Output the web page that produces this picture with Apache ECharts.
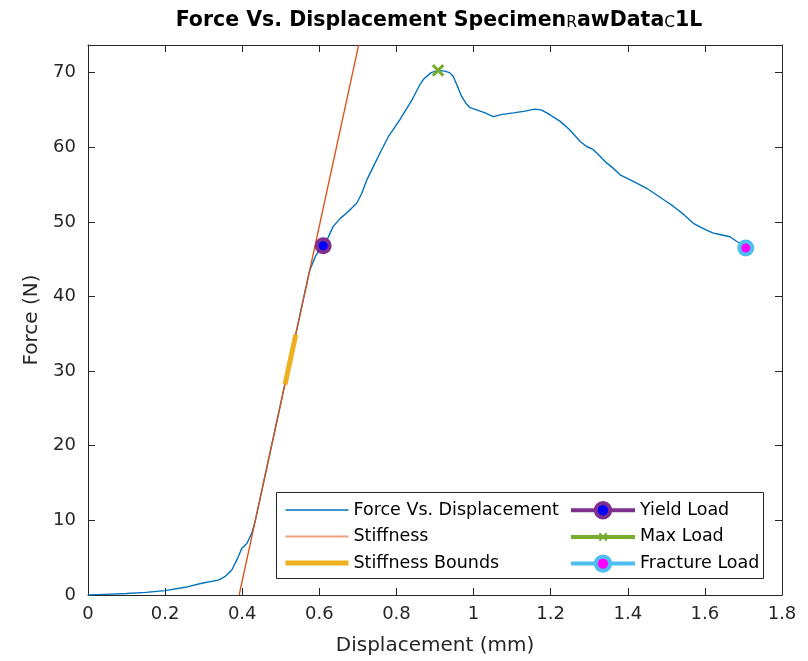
<!DOCTYPE html>
<html>
<head>
<meta charset="utf-8">
<script src="https://cdn.jsdelivr.net/npm/echarts@6/dist/echarts.min.js"></script>
<style>
  html, body { margin: 0; padding: 0; background: #fff; }
  #chart { width: 808px; height: 661px; }
</style>
</head>
<body>
<div id="chart"></div>
<script>
// ---- Data ----
const forceX = [0, 0.044, 0.1, 0.15, 0.2, 0.252, 0.295, 0.338, 0.355, 0.373,
  0.386, 0.399, 0.412, 0.425, 0.434, 0.455, 0.476, 0.497, 0.518, 0.539,
  0.560, 0.575, 0.590, 0.603, 0.610, 0.620, 0.636, 0.655, 0.671, 0.697,
  0.710, 0.723, 0.740, 0.757, 0.780, 0.809, 0.840, 0.861, 0.870, 0.890,
  0.908, 0.925, 0.938, 0.947, 0.958, 0.969, 0.980, 0.991, 1.008, 1.030,
  1.051, 1.075, 1.103, 1.130, 1.159, 1.175, 1.190, 1.224, 1.250, 1.276,
  1.293, 1.310, 1.328, 1.345, 1.362, 1.380, 1.400, 1.423, 1.449, 1.475,
  1.501, 1.518, 1.545, 1.570, 1.600, 1.622, 1.639, 1.665, 1.682, 1.695,
  1.706];
const forceY = [0, 0.09, 0.2, 0.35, 0.58, 1.03, 1.57, 2.0, 2.45, 3.35,
  4.7, 6.26, 6.9, 8.3, 10.0, 15.0, 20.0, 25.0, 30.0, 35.0,
  40.0, 43.5, 45.4, 46.4, 46.8, 47.6, 49.4, 50.5, 51.2, 52.5,
  53.8, 55.6, 57.4, 59.2, 61.5, 63.7, 66.3, 68.4, 69.1, 70.0,
  70.3, 70.2, 70.0, 69.5, 68.2, 66.8, 65.9, 65.3, 65.0, 64.6,
  64.1, 64.4, 64.6, 64.8, 65.1, 65.0, 64.6, 63.5, 62.3, 60.8,
  60.1, 59.7, 58.8, 57.9, 57.2, 56.3, 55.8, 55.2, 54.5, 53.6,
  52.7, 52.1, 51.0, 49.8, 49.0, 48.5, 48.3, 48.0, 47.4, 47.0,
  46.5];

const stiffnessX = [0.392, 0.702];
const stiffnessY = [0, 73.7];

const boundsX = [0.511, 0.539];
const boundsY = [28.2, 34.9];

const yieldPoint = [0.610, 46.8];
const maxPoint = [0.908, 70.3];
const fracturePoint = [1.706, 46.5];

const xMin = 0, xMax = 1.8, xStep = 0.2;
const yMin = 0, yMax = 73.7, yStep = 10;

const seriesNames = ['Force Vs. Displacement', 'Stiffness', 'Stiffness Bounds',
  'Yield Load', 'Max Load', 'Fracture Load'];

// ---- Chart ----
const zip = (xs, ys) => xs.map((x, i) => [x, ys[i]]);
const FONT = 'DejaVu Sans';
const AXC = '#262626';
const xMark = 'path://M0,0 L0.15,0 L0,0.15 Z M20,20 L19.85,20 L20,19.85 Z M4,6 L6,4 L10,8 L14,4 L16,6 L12,10 L16,14 L14,16 L10,12 L6,16 L4,14 L8,10 Z';

function xAxisCfg(pos, showLabel) {
  return {
    type: 'value', position: pos, min: xMin, max: xMax, interval: xStep,
    axisLine: { show: true, onZero: false, lineStyle: { color: AXC, width: 1 } },
    axisTick: { show: true, inside: true, length: 7, lineStyle: { color: AXC } },
    axisLabel: { show: showLabel, fontSize: 18, color: AXC, fontFamily: FONT, margin: 10 },
    splitLine: { show: false },
    name: showLabel ? 'Displacement (mm)' : '',
    nameLocation: 'middle', nameGap: 41,
    nameTextStyle: { fontSize: 20, color: AXC, fontFamily: FONT }
  };
}
function yAxisCfg(pos, showLabel) {
  return {
    type: 'value', position: pos, min: yMin, max: yMax, interval: yStep,
    axisLine: { show: true, onZero: false, lineStyle: { color: AXC, width: 1 } },
    axisTick: { show: true, inside: true, length: 7, lineStyle: { color: AXC } },
    axisLabel: {
      show: showLabel, fontSize: 18, color: AXC, fontFamily: FONT, margin: 12,
      formatter: v => (Math.abs(v / yStep - Math.round(v / yStep)) < 1e-6 ? String(Math.round(v)) : '')
    },
    splitLine: { show: false },
    name: showLabel ? 'Force (N)' : '',
    nameLocation: 'middle', nameGap: 45, nameRotate: 90,
    nameTextStyle: { fontSize: 20, color: AXC, fontFamily: FONT }
  };
}

const chart = echarts.init(document.getElementById('chart'), null, { renderer: 'canvas' });
chart.setOption({
  animation: false,
  backgroundColor: '#fff',
  title: {
    text: 'Force Vs. Displacement Specimen{sub|R}awData{sub|C}1L',
    left: 434, top: 5, textAlign: 'center',
    textStyle: {
      fontSize: 20.5, fontWeight: 'bold', color: '#000', fontFamily: FONT,
      rich: { sub: { fontSize: 15.5, fontWeight: 'normal', color: '#000', fontFamily: FONT, verticalAlign: 'bottom' } }
    }
  },
  grid: { left: 88, right: 26, top: 45, bottom: 66, containLabel: false },
  xAxis: [xAxisCfg('bottom', true), xAxisCfg('top', false)],
  yAxis: [yAxisCfg('left', true), yAxisCfg('right', false)],
  graphic: [{
    type: 'rect', z: 3,
    shape: { x: 276.5, y: 492.5, width: 487, height: 86 },
    style: { fill: '#fff', stroke: AXC, lineWidth: 1 }
  }],
  legend: [{
    z: 5, left: 283, top: 501, orient: 'vertical', padding: 0,
    itemWidth: 63, itemHeight: 18, itemGap: 8.5, selectedMode: false,
    textStyle: { fontSize: 17.5, color: '#000', fontFamily: FONT },
    data: [
      { name: seriesNames[0], itemStyle: { opacity: 0 }, lineStyle: { width: 1.5 } },
      { name: seriesNames[1], itemStyle: { opacity: 0 }, lineStyle: { width: 2, color: '#EDA07E' } },
      { name: seriesNames[2], itemStyle: { opacity: 0 }, lineStyle: { width: 5 } }
    ]
  }, {
    z: 5, left: 569, top: 501, orient: 'vertical', padding: 0,
    itemWidth: 64, itemHeight: 18, itemGap: 8.5, selectedMode: false,
    textStyle: { fontSize: 17.5, color: '#000', fontFamily: FONT },
    data: [
      { name: seriesNames[3], itemStyle: { borderWidth: 4 }, lineStyle: { width: 4 } },
      { name: seriesNames[4], itemStyle: { borderWidth: 0 }, lineStyle: { width: 4 } },
      { name: seriesNames[5], itemStyle: { borderWidth: 4 }, lineStyle: { width: 4 } }
    ]
  }],
  series: [
    {
      name: seriesNames[0], type: 'line', data: zip(forceX, forceY),
      symbol: 'none', showSymbol: false, z: 2, color: '#0072BD',
      lineStyle: { color: '#0072BD', width: 1.4 }
    },
    {
      name: seriesNames[1], type: 'line', data: zip(stiffnessX, stiffnessY),
      symbol: 'none', showSymbol: false, z: 2, clip: true, color: '#D95319',
      lineStyle: { color: '#D95319', width: 1.3 }
    },
    {
      name: seriesNames[2], type: 'line', data: zip(boundsX, boundsY),
      symbol: 'none', showSymbol: false, z: 2, color: '#EDB120',
      lineStyle: { color: '#EDB120', width: 5, cap: 'butt' }
    },
    {
      name: seriesNames[3], type: 'line', data: [yieldPoint], z: 4,
      symbol: 'circle', symbolSize: 13, color: '#0000FF',
      itemStyle: { color: '#0000FF', borderColor: '#7E2F8E', borderWidth: 4 },
      lineStyle: { color: '#7E2F8E', width: 4 }
    },
    {
      name: seriesNames[4], type: 'line', data: [maxPoint], z: 4,
      symbol: xMark, symbolSize: 21, color: '#77AC30',
      itemStyle: { color: '#77AC30' },
      lineStyle: { color: '#77AC30', width: 4 }
    },
    {
      name: seriesNames[5], type: 'line', data: [fracturePoint], z: 4,
      symbol: 'circle', symbolSize: 13, color: '#FF00FF',
      itemStyle: { color: '#FF00FF', borderColor: '#4DBEEE', borderWidth: 4 },
      lineStyle: { color: '#4DBEEE', width: 4 }
    }
  ]
});
</script>
</body>
</html>
